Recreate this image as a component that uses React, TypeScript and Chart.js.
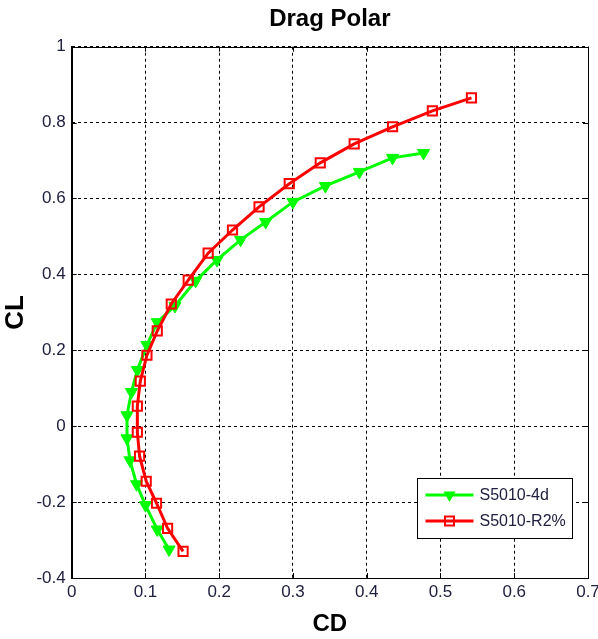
import React, { useEffect, useRef } from "react";
import { Chart, registerables } from "chart.js";

Chart.register(...registerables);

const seriesNames = ["S5010-4d", "S5010-R2%"];

const greenCD = [0.132, 0.116, 0.1, 0.088, 0.079, 0.075, 0.075, 0.081, 0.089, 0.102, 0.116, 0.14, 0.168, 0.197, 0.229, 0.263, 0.3, 0.344, 0.39, 0.435, 0.477];
const greenCL = [-0.325, -0.272, -0.208, -0.153, -0.09, -0.032, 0.029, 0.09, 0.148, 0.214, 0.274, 0.317, 0.383, 0.438, 0.491, 0.538, 0.591, 0.633, 0.67, 0.707, 0.72];

const redCD = [0.151, 0.13, 0.115, 0.101, 0.092, 0.089, 0.089, 0.093, 0.102, 0.116, 0.135, 0.158, 0.185, 0.218, 0.254, 0.295, 0.337, 0.383, 0.435, 0.489, 0.542];
const redCL = [-0.33, -0.269, -0.203, -0.145, -0.079, -0.016, 0.053, 0.119, 0.187, 0.251, 0.322, 0.385, 0.456, 0.517, 0.578, 0.639, 0.694, 0.744, 0.789, 0.831, 0.865];

const xTicks = [0, 0.1, 0.2, 0.3, 0.4, 0.5, 0.6, 0.7];
const yTicks = [-0.4, -0.2, 0, 0.2, 0.4, 0.6, 0.8, 1];

const GREEN = "#00ff00";
const RED = "#ff0000";
const TICK_COLOR = "#202040";
const FONT = "'Liberation Sans', Arial, sans-serif";

const fmt = (v: number) => String(Math.round(v * 10) / 10);

function drawTriangleDown(ctx: CanvasRenderingContext2D, x: number, y: number, r: number) {
  const dx = Math.cos(Math.PI / 6) * r;
  ctx.beginPath();
  ctx.moveTo(x, y + r);
  ctx.lineTo(x - dx, y - r / 2);
  ctx.lineTo(x + dx, y - r / 2);
  ctx.closePath();
}

const boxPlugin = {
  id: "boxTicks",
  beforeDatasetsDraw(chart: any) {
    const { ctx, chartArea } = chart;
    const { left, right, top, bottom } = chartArea;
    const xs = chart.scales.x;
    const ys = chart.scales.y;
    ctx.save();
    ctx.strokeStyle = "#000";
    ctx.lineWidth = 1;
    ctx.setLineDash([]);
    ctx.strokeRect(Math.round(left) + 0.5, Math.round(top) + 0.5, Math.round(right) - Math.round(left), Math.round(bottom) - Math.round(top));
    const tl = 5;
    ctx.beginPath();
    xTicks.forEach((t) => {
      const px = Math.round(xs.getPixelForValue(t)) + 0.5;
      ctx.moveTo(px, bottom);
      ctx.lineTo(px, bottom - tl);
      ctx.moveTo(px, top);
      ctx.lineTo(px, top + tl);
    });
    yTicks.forEach((t) => {
      const py = Math.round(ys.getPixelForValue(t)) + 0.5;
      ctx.moveTo(left, py);
      ctx.lineTo(left + tl, py);
      ctx.moveTo(right, py);
      ctx.lineTo(right - tl, py);
    });
    ctx.stroke();
    ctx.restore();
  },
};

const legendPlugin = {
  id: "customLegend",
  afterDraw(chart: any) {
    const { ctx, chartArea } = chart;
    const bx = Math.round(chartArea.right - 171) + 0.5;
    const by = Math.round(chartArea.bottom - 100) + 0.5;
    const bw = 155;
    const bh = 60;
    ctx.save();
    ctx.fillStyle = "#fff";
    ctx.fillRect(bx, by, bw, bh);
    ctx.strokeStyle = "#000";
    ctx.lineWidth = 1;
    ctx.strokeRect(bx, by, bw, bh);
    const rows = [
      { name: seriesNames[0], color: GREEN, y: by + 16.5, kind: "tri" },
      { name: seriesNames[1], color: RED, y: by + 42.5, kind: "sq" },
    ];
    rows.forEach((r) => {
      ctx.strokeStyle = r.color;
      ctx.lineWidth = 3;
      ctx.beginPath();
      ctx.moveTo(bx + 8, r.y);
      ctx.lineTo(bx + 56, r.y);
      ctx.stroke();
      const mx = bx + 32;
      if (r.kind === "tri") {
        ctx.fillStyle = r.color;
        drawTriangleDown(ctx, mx, r.y, 7);
        ctx.fill();
      } else {
        ctx.lineWidth = 2;
        ctx.strokeRect(mx - 4.5, r.y - 4.5, 9, 9);
      }
      ctx.fillStyle = TICK_COLOR;
      ctx.font = `16px ${FONT}`;
      ctx.textAlign = "left";
      ctx.textBaseline = "middle";
      ctx.fillText(r.name, bx + 62, r.y + 1);
    });
    ctx.restore();
  },
};

export default function App() {
  const ref = useRef<HTMLCanvasElement | null>(null);
  useEffect(() => {
    if (!ref.current) return;
    const chart = new Chart(ref.current, {
      type: "scatter",
      data: {
        datasets: [
          {
            label: seriesNames[0],
            data: greenCD.map((x, i) => ({ x, y: greenCL[i] })),
            showLine: true,
            borderColor: GREEN,
            backgroundColor: GREEN,
            borderWidth: 3,
            pointStyle: "triangle",
            rotation: 180,
            pointRadius: 7,
            pointBorderWidth: 1,
            pointBackgroundColor: GREEN,
            pointBorderColor: GREEN,
            order: 2,
          },
          {
            label: seriesNames[1],
            data: redCD.map((x, i) => ({ x, y: redCL[i] })),
            showLine: true,
            borderColor: RED,
            backgroundColor: "rgba(0,0,0,0)",
            borderWidth: 3,
            pointStyle: "rect",
            pointRadius: 6.5,
            pointBorderWidth: 2,
            pointBackgroundColor: "rgba(0,0,0,0)",
            pointBorderColor: RED,
            order: 1,
          },
        ],
      },
      options: {
        responsive: false,
        animation: false,
        events: [],
        layout: { padding: { left: 0, right: 10, top: 0, bottom: 0 } },
        plugins: {
          legend: { display: false },
          tooltip: { enabled: false },
          title: {
            display: true,
            text: "Drag Polar",
            fullSize: false,
            color: "#000",
            font: { family: FONT, size: 24, weight: "bold" },
            padding: { top: 5, bottom: 12.9 },
          },
        },
        scales: {
          x: {
            type: "linear",
            min: 0,
            max: 0.7,
            afterBuildTicks: (scale: any) => {
              scale.ticks = xTicks.map((v) => ({ value: v }));
            },
            afterFit: (scale: any) => {
              scale.height = 61;
              scale.paddingLeft = 0;
              scale.paddingRight = 0;
            },
            ticks: {
              callback: (v: any) => fmt(Number(v)),
              color: TICK_COLOR,
              font: { family: FONT, size: 17 },
              padding: 4,
              maxRotation: 0,
              autoSkip: false,
            },
            grid: {
              color: "#000",
              lineWidth: 1,
              drawTicks: false,
            },
            border: { display: true, color: "#000", dash: [3, 3] },
            title: {
              display: true,
              text: "CD",
              color: "#000",
              font: { family: FONT, size: 24, weight: "bold" },
              padding: { top: 0, bottom: 0 },
            },
          },
          y: {
            type: "linear",
            min: -0.4,
            max: 1,
            afterBuildTicks: (scale: any) => {
              scale.ticks = yTicks.map((v) => ({ value: v }));
            },
            afterFit: (scale: any) => {
              scale.width = 71.7;
              scale.paddingTop = 0;
              scale.paddingBottom = 0;
            },
            ticks: {
              callback: (v: any) => fmt(Number(v)),
              color: TICK_COLOR,
              font: { family: FONT, size: 17 },
              padding: 6,
              autoSkip: false,
            },
            grid: {
              color: "#000",
              lineWidth: 1,
              drawTicks: false,
            },
            border: { display: true, color: "#000", dash: [3, 3] },
            title: {
              display: true,
              text: "CL",
              color: "#000",
              font: { family: FONT, size: 26, weight: "bold" },
              padding: { top: 0, bottom: 3 },
            },
          },
        },
      } as any,
      plugins: [boxPlugin, legendPlugin],
    });
    return () => chart.destroy();
  }, []);
  return (
    <div style={{ position: "fixed", left: 0, top: 0, width: 598, height: 639, background: "#fff" }}>
      <canvas ref={ref} width={598} height={639} style={{ display: "block" }} />
    </div>
  );
}
